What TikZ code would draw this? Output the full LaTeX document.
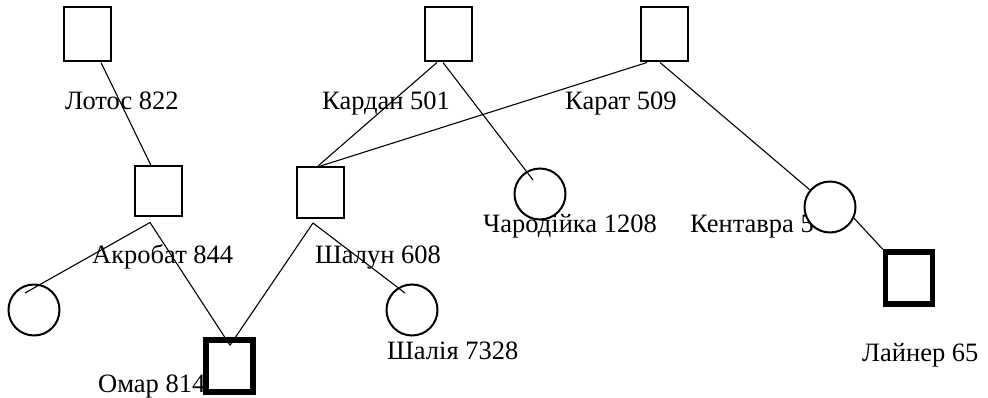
\documentclass[tikz,border=0pt]{standalone}
\usepackage{fontspec}
\setmainfont{Liberation Serif}
\usetikzlibrary{calc}
\begin{document}
\begin{tikzpicture}[x=1pt,y=-1pt,
  sq/.style={draw,line width=2pt,rectangle,inner sep=0pt,minimum width=47pt,minimum height=53pt},
  bigsq/.style={draw,line width=5.5pt,rectangle,inner sep=0pt,minimum width=47pt,minimum height=52pt},
  circ/.style={draw,line width=2pt,circle,inner sep=0pt,minimum size=51pt},
  lbl/.style={anchor=base west,inner sep=0pt,font=\fontsize{26.5}{30}\selectfont},
  link/.style={line width=1.1pt}]
\useasboundingbox[fill=white] (0,0) rectangle (988,398);
% labels
\node[lbl] (tlotos) at (65,109.5) {Лотос 822};
\node[lbl] (tkardan) at (322,109.5) {Кардан 501};
\node[lbl] (tkarat) at (565,109.5) {Карат 509};
\node[lbl] (takrobat) at (92,263) {Акробат 844};
\node[lbl] (tshalun) at (315,263) {Шалун 608};
\node[lbl] (tcharod) at (483,233) {Чародійка 1208};
\node[lbl] (tkent) at (690,233) {Кентавра 5};
\node[lbl] (tshaliya) at (387,359) {Шалія 7328};
\node[lbl] (tliner) at (862,361) {Лайнер 65};
\node[lbl] (tomar) at (98,392) {Омар 814};
% shapes
\node[sq,minimum height=54pt] (lotos) at (87,34.5) {};
\node[sq,minimum height=54pt] (kardan) at (448,34.5) {};
\node[sq,minimum height=54pt] (karat) at (664.5,34.5) {};
\node[sq,minimum height=50pt] (akrobat) at (158.5,191.5) {};
\node[sq,minimum height=51pt] (shalun) at (320.5,192.5) {};
\node[bigsq] (omar) at (229.5,366) {};
\node[bigsq] (liner) at (909,278) {};
\node[circ] (left) at (34,310) {};
\node[circ] (shaliya) at (412,310) {};
\node[circ] (charod) at (540,194) {};
\node[circ,fill=white] (kent) at (830,207) {};
% connectors
\draw[link] ($(lotos.south)+(14,0)$) -- ($(akrobat.north)+(-7.5,0)$);
\draw[link] ($(kardan.south)+(-11,0)$) -- ($(shalun.north)+(-2.5,0)$);
\draw[link] ($(kardan.south)+(-5,0)$) -- ($(charod.center)+(-7,-14)$);
\draw[link] ($(karat.south)+(-17.5,0)$) -- ($(shalun.north)+(0,0)$);
\draw[link] ($(karat.south)+(-4.5,0)$) -- (kent);
\draw[link] (kent.-25) -- (liner.north west);
\draw[link] ($(akrobat.south)+(-8.5,5)$) -- ($(left.center)+(-9,-17)$);
\draw[link] ($(akrobat.south)+(-8.5,5)$) -- ($(omar.north)+(0.5,8)$);
\draw[link] ($(shalun.south)+(-7.5,4)$) -- ($(omar.north)+(0.5,8)$);
\draw[link] ($(shalun.south)+(-7.5,4)$) -- ($(shaliya.center)+(-7,-17)$);
\end{tikzpicture}
\end{document}
